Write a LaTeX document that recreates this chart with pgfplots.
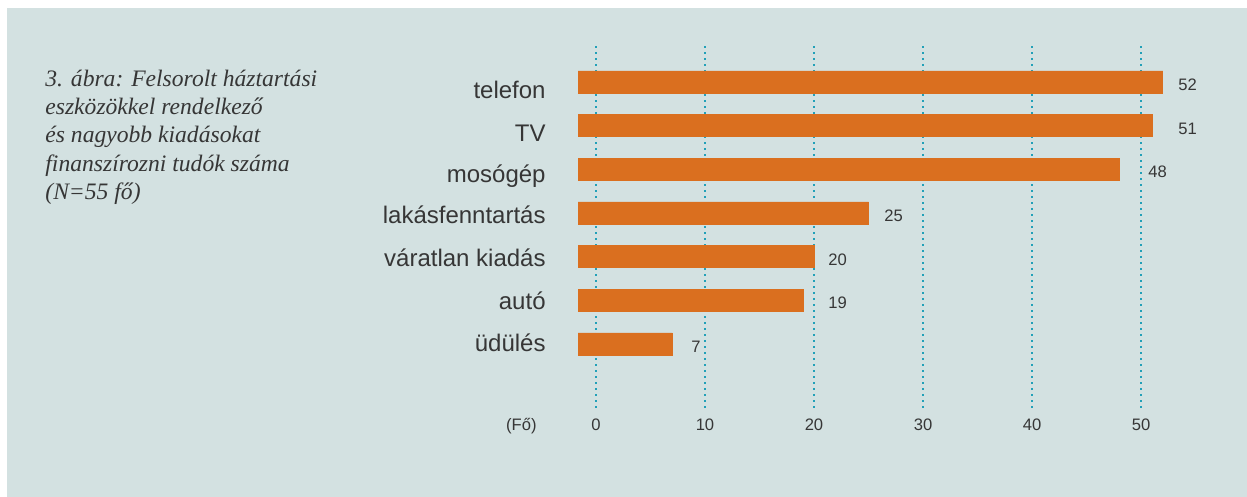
\documentclass[border=0pt]{standalone}
\usepackage{fontspec}
\setmainfont{Liberation Sans}
\newfontfamily\titlefont{Liberation Serif}
\usepackage{pgfplots}
\pgfplotsset{compat=1.18}
\definecolor{panel}{HTML}{D3E1E1}
\definecolor{barorange}{HTML}{DA6F1F}
\definecolor{gridblue}{HTML}{22A0B8}
\definecolor{ink}{HTML}{363636}

\begin{document}
\begin{tikzpicture}
\useasboundingbox (0pt,0pt) rectangle (623.5pt,248.5pt);
\fill[panel] (3.5pt,0pt) rectangle (623.5pt,244.5pt);

% caption, one line per node
\tikzset{captxt/.style={anchor=base west, inner sep=0pt, text=ink,
  font=\titlefont\itshape\fontsize{11.8}{14}\selectfont}}
\node[captxt] at (22.5pt,205pt)   {3. ábra: Felsorolt háztartási};
\node[captxt] at (22.5pt,191pt)   {eszközökkel rendelkező};
\node[captxt] at (22.5pt,177pt)   {és nagyobb kiadásokat};
\node[captxt] at (22.5pt,162.5pt) {finanszírozni tudók száma};
\node[captxt] at (22.5pt,148.5pt) {(N=55 fő)};

\begin{axis}[
    at={(289pt,44.5pt)}, anchor=south west,
    scale only axis, width=308.75pt, height=181.5pt,
    xmin=-1.65, xmax=55, ymin=-1.466, ymax=6.847,
    clip=false,
    axis line style={draw=none},
    major tick length=0pt,
    xtick={0,10,20,30,40,50},
    ytick={5.610,4.648,3.687,2.748,1.763,0.779,-0.183},
    yticklabels={telefon,TV,mosógép,lakásfenntartás,váratlan kiadás,autó,üdülés},
    xmajorgrids=true, ymajorgrids=false,
    grid style={gridblue, line width=0.8pt, dash pattern=on 0.75pt off 2.25pt},
    /pgf/number format/assume math mode=true,
    xticklabel style={anchor=base, inner sep=0pt, yshift=-11.5pt, text=ink,
                      font=\fontsize{8.3}{10}\selectfont},
    yticklabel style={anchor=base east, inner sep=0pt, xshift=-16pt, text=ink,
                      font=\fontsize{12}{14}\selectfont},
  ]
% bars start a little left of zero
\addplot[xbar, bar width=11pt, bar shift=0pt, fill=barorange, draw=barorange, line width=0.4pt]
  coordinates {(-1.65,6) (-1.65,5) (-1.65,4) (-1.65,3) (-1.65,2) (-1.65,1) (-1.65,0)};
\addplot[xbar, bar width=11pt, bar shift=0pt, fill=barorange, draw=barorange, line width=0.4pt]
  coordinates {(52,6) (51,5) (48,4) (25,3) (20,2) (19,1) (7,0)};
\addplot[only marks, mark=none, nodes near coords, point meta=explicit symbolic,
         nodes near coords style={anchor=base west, inner sep=0pt, yshift=-4.3pt,
                                  text=ink, font=\fontsize{8.3}{10}\selectfont}]
  coordinates {(53.39,6) [52] (53.39,5) [51] (50.64,4) [48] (26.42,3) [25]
               (21.28,2) [20] (21.28,1) [19] (8.72,0) [7]};
\end{axis}

\node[anchor=base east, inner sep=0pt, text=ink, font=\fontsize{8.3}{10}\selectfont]
  at (268.5pt,33pt) {(Fő)};
\end{tikzpicture}
\end{document}
